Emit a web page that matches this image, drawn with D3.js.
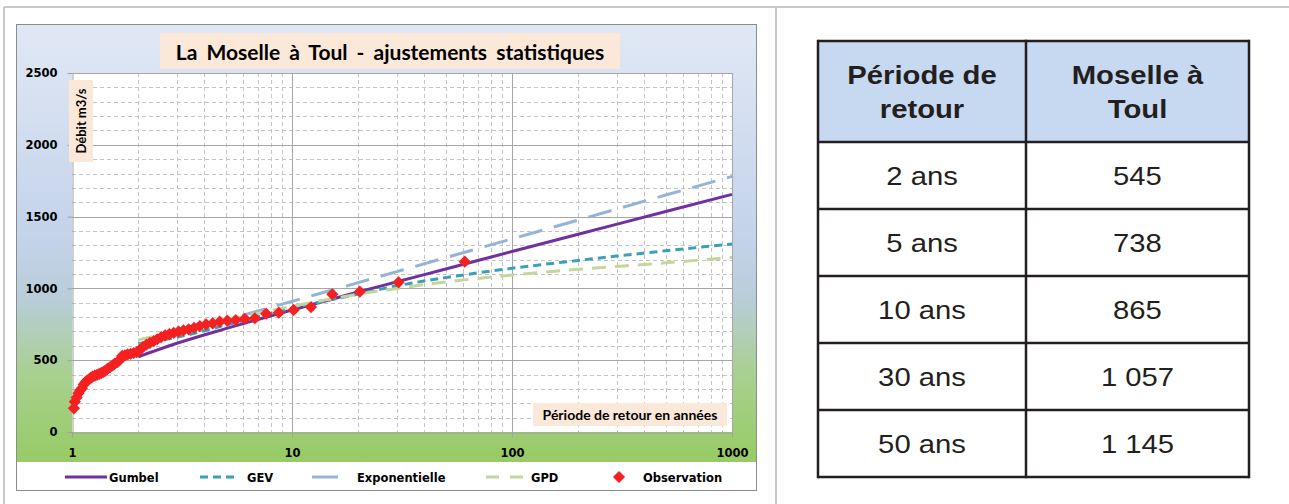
<!DOCTYPE html>
<html lang="fr">
<head>
    <meta charset="UTF-8"/>
    <title>La Moselle à Toul - ajustements statistiques</title>
    <script src="https://d3js.org/d3.v7.min.js"></script>
    <style>
        body { margin: 0; background: #ffffff; }
        svg { display: block; }
    </style>
</head>
<body>
<script>

// return periods used for the fitted curves
var periods = [2, 3, 5, 10, 20, 30, 50, 100, 200, 500, 1000];

// fitted discharges (m3/s)
var gumbel = [524, 618, 720, 850, 975, 1046, 1135, 1257, 1377, 1535, 1655];
var gev    = [615, 660, 745, 862, 960, 1018, 1075, 1140, 1195, 1262, 1309];
var expo   = [605, 682, 779, 910, 1040, 1117, 1214, 1345, 1476, 1650, 1780];
var gpd    = [641, 705, 780, 875, 960, 1000, 1045, 1093, 1133, 1178, 1217];

// observed floods (return period, discharge)
var obsT = [61, 30.5, 20.33, 15.25, 12.2, 10.17, 8.71, 7.63, 6.78, 6.1,
            5.55, 5.08, 4.69, 4.36, 4.07, 3.81, 3.59, 3.39, 3.21, 3.05,
            2.9, 2.77, 2.65, 2.54, 2.44, 2.35, 2.26, 2.18, 2.1, 2.03,
            1.97, 1.91, 1.85, 1.79, 1.74, 1.69, 1.65, 1.61, 1.56, 1.53,
            1.49, 1.45, 1.42, 1.39, 1.36, 1.33, 1.3, 1.27, 1.24, 1.22,
            1.2, 1.17, 1.15, 1.13, 1.11, 1.09, 1.07, 1.05, 1.03, 1.02];
var obsQ = [1186, 1042, 977, 959, 870, 850, 831, 824, 792, 788,
            780, 775, 768, 757, 750, 738, 726, 715, 707, 700,
            690, 682, 673, 660, 646, 633, 620, 608, 592, 570,
            556, 550, 545, 540, 534, 530, 502, 487, 475, 463,
            452, 440, 428, 418, 412, 405, 398, 392, 385, 378,
            370, 358, 345, 330, 305, 290, 270, 240, 210, 165];

// axis ticks
var yTicks = [0, 500, 1000, 1500, 2000, 2500];
var xTicks = [1, 10, 100, 1000];

// table
var tableHead = [["Période de", "retour"], ["Moselle à", "Toul"]];
var tablePeriods = ["2 ans", "5 ans", "10 ans", "30 ans", "50 ans"];
var tableValues = ["545", "738", "865", "1 057", "1 145"];

var W = 1289, H = 504;

var svg = d3.select("body").append("svg")
    .attr("width", W)
    .attr("height", H);

var defs = svg.append("defs");
var grad = defs.append("linearGradient")
    .attr("id", "bg")
    .attr("x1", 0).attr("y1", 0).attr("x2", 0).attr("y2", 1);
[[0, "#e0e8f4"], [0.5, "#c3d2ea"], [0.63, "#b8cdd8"], [0.8, "#a8d08f"], [1, "#97cb65"]]
    .forEach(function(s) {
        grad.append("stop").attr("offset", s[0]).attr("stop-color", s[1]);
    });

// page frame
svg.append("line").attr("x1", 4).attr("x2", W).attr("y1", 7).attr("y2", 7)
    .attr("stroke", "#c8c8c8").attr("stroke-width", 2);
svg.append("line").attr("x1", 4).attr("x2", 4).attr("y1", 7).attr("y2", H)
    .attr("stroke", "#c8c8c8").attr("stroke-width", 2);
svg.append("line").attr("x1", 776).attr("x2", 776).attr("y1", 7).attr("y2", H)
    .attr("stroke", "#c8c8c8").attr("stroke-width", 2);

// chart background
svg.append("rect")
    .attr("x", 16.5).attr("y", 24.5).attr("width", 740).attr("height", 438)
    .attr("fill", "url(#bg)");
svg.append("rect")
    .attr("x", 16.5).attr("y", 462).attr("width", 740).attr("height", 28.5)
    .attr("fill", "#ffffff");
svg.append("rect")
    .attr("x", 16.5).attr("y", 24.5).attr("width", 740).attr("height", 466)
    .attr("fill", "none").attr("stroke", "#8c8c8c");

var x = d3.scaleLog().domain([1, 1000]).range([72, 732]);
var y = d3.scaleLinear().domain([0, 2500]).range([432, 73]);

// plot area
svg.append("rect")
    .attr("x", x(1)).attr("y", y(2500))
    .attr("width", x(1000) - x(1)).attr("height", y(0) - y(2500))
    .attr("fill", "#ffffff");

// minor grid
var xMinor = [];
[1, 10, 100].forEach(function(d) {
    for (var k = 2; k <= 9; k++) xMinor.push(d * k);
});
var yMinor = d3.range(100, 2500, 100).filter(function(d) { return d % 500 !== 0; });

var grid = svg.append("g");
grid.selectAll(".vminor").data(xMinor).enter().append("line")
    .attr("x1", function(d) { return Math.round(x(d)) + 0.5; })
    .attr("x2", function(d) { return Math.round(x(d)) + 0.5; })
    .attr("y1", y(2500)).attr("y2", y(0))
    .attr("stroke", "#c4c4c4").attr("stroke-dasharray", "4,3");
grid.selectAll(".hminor").data(yMinor).enter().append("line")
    .attr("x1", x(1)).attr("x2", x(1000))
    .attr("y1", function(d) { return Math.round(y(d)) + 0.5; })
    .attr("y2", function(d) { return Math.round(y(d)) + 0.5; })
    .attr("stroke", "#c4c4c4").attr("stroke-dasharray", "4,3");

// major grid
grid.selectAll(".vmajor").data([10, 100, 1000]).enter().append("line")
    .attr("x1", function(d) { return Math.round(x(d)) + 0.5; })
    .attr("x2", function(d) { return Math.round(x(d)) + 0.5; })
    .attr("y1", y(2500)).attr("y2", y(0))
    .attr("stroke", "#a6a6a6");
grid.selectAll(".hmajor").data([500, 1000, 1500, 2000, 2500]).enter().append("line")
    .attr("x1", x(1)).attr("x2", x(1000))
    .attr("y1", function(d) { return Math.round(y(d)) + 0.5; })
    .attr("y2", function(d) { return Math.round(y(d)) + 0.5; })
    .attr("stroke", "#a6a6a6");

// axes
var yAxis = svg.append("g")
    .attr("transform", "translate(" + (x(1) + 0.5) + ",0)")
    .call(d3.axisLeft(y).tickValues(yTicks).tickFormat(d3.format("d"))
        .tickSize(5).tickSizeOuter(0).tickPadding(10));
var xAxis = svg.append("g")
    .attr("transform", "translate(0," + (y(0) + 0.5) + ")")
    .call(d3.axisBottom(x).tickValues(xTicks).tickFormat(d3.format("d"))
        .tickSize(5).tickSizeOuter(0).tickPadding(11));

[yAxis, xAxis].forEach(function(a) {
    a.select(".domain").attr("stroke", "#a0a0a0");
    a.selectAll(".tick line").attr("stroke", "#a0a0a0");
    a.selectAll(".tick text")
        .attr("fill", "#000")
        .style("font-family", "'DejaVu Sans', sans-serif")
        .style("font-size", "11.5px")
        .style("font-weight", "bold");
});

// fitted curves
var curves = [
    {name: "Gumbel", values: gumbel, color: "#7030a0", dash: null, legDash: null},
    {name: "GEV", values: gev, color: "#3a9fb8", dash: "8,5", legDash: "8,5"},
    {name: "Exponentielle", values: expo, color: "#95b3d7", dash: "24,12", legDash: "26,12"},
    {name: "GPD", values: gpd, color: "#c3d69b", dash: "14,9", legDash: "13,11"}
];

var line = d3.line()
    .x(function(d) { return x(d[0]); })
    .y(function(d) { return y(d[1]); })
    .curve(d3.curveMonotoneX);

curves.forEach(function(c) {
    svg.append("path")
        .datum(periods.map(function(p, i) { return [p, c.values[i]]; }))
        .attr("d", line)
        .attr("fill", "none")
        .attr("stroke", c.color)
        .attr("stroke-width", 3)
        .attr("stroke-dasharray", c.dash);
});

// observations
var diamond = d3.symbol().type(d3.symbolDiamond2).size(95);
svg.selectAll(".obs")
    .data(obsT.map(function(t, i) { return [t, obsQ[i]]; }))
    .enter().append("path")
    .attr("d", diamond)
    .attr("transform", function(d) { return "translate(" + x(d[0]) + "," + y(d[1]) + ")"; })
    .attr("fill", "#f52020");

// title boxes
svg.append("rect").attr("x", 160).attr("y", 33).attr("width", 460).attr("height", 36)
    .attr("fill", "#fce8d8");
svg.append("text")
    .attr("x", 390).attr("y", 60)
    .attr("text-anchor", "middle")
    .style("font-family", "Lato, sans-serif")
    .style("font-weight", "bold")
    .style("font-size", "21px")
    .style("word-spacing", "4px")
    .text("La Moselle à Toul - ajustements statistiques");

svg.append("rect").attr("x", 69).attr("y", 80).attr("width", 24).attr("height", 82)
    .attr("fill", "#fce8d8");
svg.append("text")
    .attr("transform", "translate(85.5,121) rotate(-90)")
    .attr("text-anchor", "middle")
    .style("font-family", "Lato, sans-serif")
    .style("font-weight", "bold")
    .style("font-size", "13px")
    .text("Débit m3/s");

svg.append("rect").attr("x", 533).attr("y", 403).attr("width", 194).attr("height", 23)
    .attr("fill", "#fce8d8");
svg.append("text")
    .attr("x", 630).attr("y", 419.5)
    .attr("text-anchor", "middle")
    .style("font-family", "Lato, sans-serif")
    .style("font-weight", "bold")
    .style("font-size", "14px")
    .text("Période de retour en années");

// legend
var legY = 477;
var legend = [
    {x1: 65, x2: 107, tx: 109, c: curves[0]},
    {x1: 200, x2: 237, tx: 247, c: curves[1]},
    {x1: 312, x2: 349, tx: 357, c: curves[2]},
    {x1: 486, x2: 523, tx: 531, c: curves[3]}
];
legend.forEach(function(l) {
    svg.append("line")
        .attr("x1", l.x1).attr("x2", l.x2).attr("y1", legY).attr("y2", legY)
        .attr("stroke", l.c.color).attr("stroke-width", 3)
        .attr("stroke-dasharray", l.c.legDash);
    svg.append("text")
        .attr("x", l.tx).attr("y", legY + 4.5)
        .style("font-family", "'DejaVu Sans', sans-serif")
        .style("font-weight", "bold")
        .style("font-size", "11.5px")
        .text(l.c.name);
});
svg.append("path")
    .attr("d", diamond)
    .attr("transform", "translate(619," + legY + ")")
    .attr("fill", "#f52020");
svg.append("text")
    .attr("x", 643).attr("y", legY + 4.5)
    .style("font-family", "'DejaVu Sans', sans-serif")
    .style("font-weight", "bold")
    .style("font-size", "11.5px")
    .text("Observation");

// table
var tX = [818, 1026, 1249];
var tY = [41, 142, 209, 276, 343, 410, 477];
var ink = "#231f20";
var tbl = svg.append("g");

tbl.append("rect").attr("x", tX[0]).attr("y", tY[0])
    .attr("width", tX[2] - tX[0]).attr("height", tY[1] - tY[0])
    .attr("fill", "#c6d9f0");

tbl.selectAll(".hl").data(tY).enter().append("line")
    .attr("x1", tX[0]).attr("x2", tX[2])
    .attr("y1", function(d) { return d; }).attr("y2", function(d) { return d; })
    .attr("stroke", ink).attr("stroke-width", 2.5);
tbl.selectAll(".vl").data(tX).enter().append("line")
    .attr("x1", function(d) { return d; }).attr("x2", function(d) { return d; })
    .attr("y1", tY[0] - 1.25).attr("y2", tY[6] + 1.25)
    .attr("stroke", ink).attr("stroke-width", 2.5);

function cellText(cx, cy, str, bold) {
    tbl.append("text")
        .attr("transform", "translate(" + cx + "," + cy + ") scale(1.17,1)")
        .attr("text-anchor", "middle")
        .attr("fill", ink)
        .style("font-family", "'Liberation Sans', Arial, sans-serif")
        .style("font-weight", bold ? "bold" : "normal")
        .style("font-size", "25px")
        .text(str);
}

tableHead.forEach(function(lines, j) {
    var cx = (tX[j] + tX[j + 1]) / 2;
    cellText(cx, 84, lines[0], true);
    cellText(cx, 118, lines[1], true);
});
tablePeriods.forEach(function(p, i) {
    var cy = (tY[i + 1] + tY[i + 2]) / 2 + 9;
    cellText((tX[0] + tX[1]) / 2, cy, p, false);
    cellText((tX[1] + tX[2]) / 2, cy, tableValues[i], false);
});

</script>
</body>
</html>
